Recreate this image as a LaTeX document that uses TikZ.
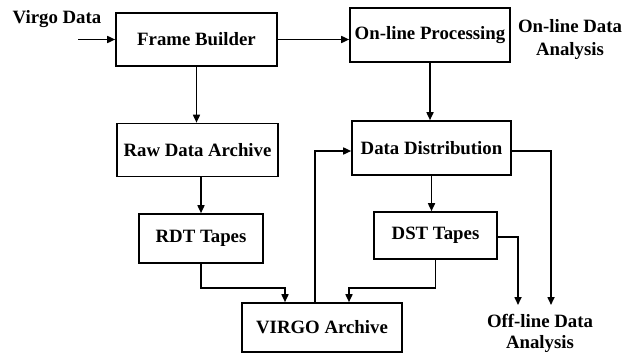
\documentclass[tikz,border=0pt]{standalone}
\usepackage{fontspec}
\setmainfont{Liberation Serif}
\usetikzlibrary{arrows.meta}
\begin{document}
\begin{tikzpicture}[x=1pt,y=-1pt,
  every node/.style={font=\fontsize{18.8}{23}\selectfont\bfseries},
  box/.style={draw,line width=1.6pt,inner sep=0pt},
  arr/.style={line width=1.6pt,-{Triangle[length=8pt,width=7pt]}},
  lbl/.style={align=center,inner sep=0pt}]
\useasboundingbox (0,0) rectangle (631,356);
\node[box,minimum width=161pt,minimum height=53pt] (FB) at (196.5,39.5) {Frame Builder};
\node[box,minimum width=161pt,minimum height=53pt] (RDA) at (197.5,150) {Raw Data Archive};
\node[box,minimum width=124pt,minimum height=49pt] (RDT) at (201,238.5) {RDT Tapes};
\node[box,minimum width=160pt,minimum height=49pt] (VA) at (322,327.5) {VIRGO Archive};
\node[box,minimum width=160pt,minimum height=54pt] (OP) at (430,35) {On-line Processing};
\node[box,minimum width=159pt,minimum height=54pt] (DD) at (431.5,148) {Data Distribution};
\node[box,minimum width=123pt,minimum height=47pt] (DST) at (435.5,235.5) {DST Tapes};
\node[lbl] (vdl) at (57,19) {Virgo Data};
\node[lbl] (onl) at (570,40) {On-line Data\\Analysis};
\node[lbl,font=\fontsize{18.8}{21}\selectfont\bfseries] (offl) at (540,333) {Off-line Data\\Analysis};
\coordinate (vd) at (78,39.5);
\coordinate (o1) at (518,305);
\coordinate (o2) at (551,305);
\draw[arr] (vd) -- (FB.west);
\draw[arr] (FB.east) -- (FB.east -| OP.west);
\draw[arr] (FB.south) -- (FB.south |- RDA.north);
\draw[arr] (RDT.north |- RDA.south) -- (RDT.north);
\draw[arr] (RDT.south) -- ++(0,24) -| ([xshift=-37pt]VA.north);
\draw[arr] (DST.south) -- ++(0,28) -| ([xshift=27pt]VA.north);
\draw[arr] ([xshift=-7pt]VA.north) |- ([yshift=-3pt]DD.west);
\draw[arr] (OP.south) -- (OP.south |- DD.north);
\draw[arr] (DD.south) -- (DD.south |- DST.north);
\draw[arr] ([yshift=-3pt]DD.east) -| (o2);
\draw[arr] ([yshift=-1.5pt]DST.east) -| (o1);
\end{tikzpicture}
\end{document}
